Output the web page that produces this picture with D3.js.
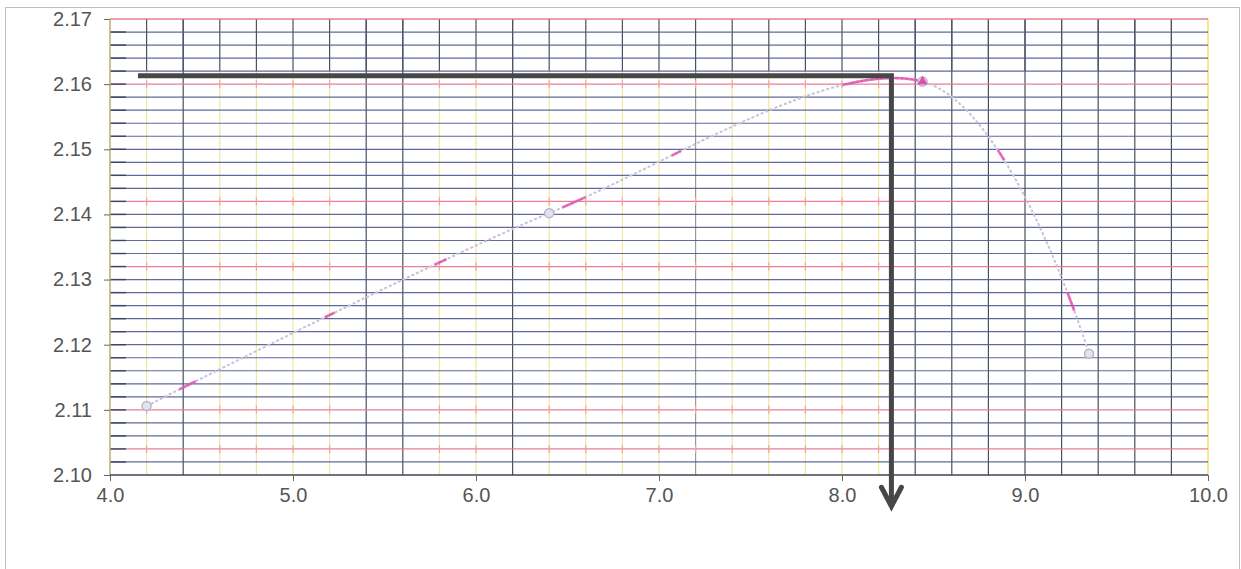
<!DOCTYPE html>
<html>
<head>
<meta charset="utf-8">
<script src="https://cdn.jsdelivr.net/npm/d3@7/dist/d3.min.js"></script>
<style>
  html, body { margin: 0; padding: 0; background: #fff; }
  svg { display: block; }
  text { font-family: "Liberation Sans", Arial, sans-serif; fill: #555; }
</style>
</head>
<body>
<svg id="chart" width="1241" height="569"></svg>
<script>
// ---- data ----
const xValues = [4.2, 6.4, 8.44, 9.35];
const yValues = [2.1106, 2.1402, 2.1604, 2.1186];
const xTicks = [4, 5, 6, 7, 8, 9, 10];
const xTickLabels = ["4.0", "5.0", "6.0", "7.0", "8.0", "9.0", "10.0"];
const yTicks = [2.10, 2.11, 2.12, 2.13, 2.14, 2.15, 2.16, 2.17];
const yTickLabels = ["2.10", "2.11", "2.12", "2.13", "2.14", "2.15", "2.16", "2.17"];
// graph-paper overlay
const hLines = d3.range(0, 36).map(i => +(2.10 + i * 0.002).toFixed(3));
const redHLines = [2.170, 2.160, 2.142, 2.132, 2.110, 2.104];
const vLines = d3.range(1, 30).map(i => +(4.0 + i * 0.2).toFixed(1));
const darkVLines = [4.4, 5.4, 5.6, 6.2, 8.4];
const greyVLines = [7.2];
const topBandY = 2.162;
const rightBandX = 8.4;
// annotation arrow (read-off of the maximum)
const guideStartX = 4.153;
const guideX = 8.27;
const guideY = 2.1613;
const guideEndY = 2.0952;
// pink highlight stretches on the curve (x ranges)
const pinkRanges = [[4.38, 4.47], [5.17, 5.23], [5.77, 5.84], [6.47, 6.6], [7.07, 7.12], [8.0, 8.45], [8.85, 8.89], [9.23, 9.27]];

// ---- layout ----
const svg = d3.select("#chart");
const x = d3.scaleLinear().domain([4, 10]).range([110, 1208]);
const y = d3.scaleLinear().domain([2.10, 2.17]).range([475, 19]);

// outer border
svg.append("rect").attr("x", 5.5).attr("y", 7.5).attr("width", 1234).attr("height", 600)
  .attr("fill", "none").attr("stroke", "#b9c2cc").attr("stroke-width", 1);

const grid = svg.append("g");

// yellow verticals (lower-left region)
grid.selectAll("line.vy").data(vLines.filter(v => v < rightBandX && !darkVLines.includes(v)))
  .join("line").attr("class", "vy")
  .attr("x1", d => x(d)).attr("x2", d => x(d))
  .attr("y1", y(topBandY)).attr("y2", y(2.10))
  .attr("stroke", d => greyVLines.includes(d) ? "#9a9a88" : "#efe79a").attr("stroke-width", 1.2);

// dark verticals in top band
grid.selectAll("line.vt").data(vLines)
  .join("line").attr("class", "vt")
  .attr("x1", d => x(d)).attr("x2", d => x(d))
  .attr("y1", y(2.17)).attr("y2", y(topBandY))
  .attr("stroke", "#4c5060").attr("stroke-width", 1.2);

// dark full-height verticals
grid.selectAll("line.vd").data(vLines.filter(v => v > rightBandX || darkVLines.includes(v)))
  .join("line").attr("class", "vd")
  .attr("x1", d => x(d)).attr("x2", d => x(d))
  .attr("y1", y(2.17)).attr("y2", y(2.10))
  .attr("stroke", "#4c5060").attr("stroke-width", 1.2);

// right border of plot (yellow)
grid.append("line").attr("x1", x(10)).attr("x2", x(10)).attr("y1", y(2.17)).attr("y2", y(2.10))
  .attr("stroke", "#f2ea8c").attr("stroke-width", 2);

// horizontal lines
grid.selectAll("line.h").data(hLines.filter(v => v > 2.10))
  .join("line").attr("class", "h")
  .attr("x1", x(4)).attr("x2", x(10))
  .attr("y1", d => y(d)).attr("y2", d => y(d))
  .attr("stroke", d => redHLines.includes(d) ? "#e9788e" : "#4f5a92")
  .attr("stroke-width", d => redHLines.includes(d) ? 1.3 : 1.2)
  .attr("opacity", d => redHLines.includes(d) ? 0.95 : 0.9);

// short dark dashes at the left side of each line
grid.selectAll("line.hd").data(hLines.filter(v => v > 2.10 && v < 2.17))
  .join("line").attr("class", "hd")
  .attr("x1", x(4)).attr("x2", x(4) + 16)
  .attr("y1", d => y(d)).attr("y2", d => y(d))
  .attr("stroke", "#3c4468").attr("stroke-width", 1.4);

// pink cross marks on yellow verticals at red lines
const crosses = [];
vLines.filter(v => v < rightBandX && !darkVLines.includes(v)).forEach(v => {
  redHLines.filter(h => h < topBandY).forEach(h => crosses.push([v, h]));
});
grid.selectAll("line.pk").data(crosses).join("line").attr("class", "pk")
  .attr("x1", d => x(d[0])).attr("x2", d => x(d[0]))
  .attr("y1", d => y(d[1]) - 4).attr("y2", d => y(d[1]) + 4)
  .attr("stroke", "#f3a0b4").attr("stroke-width", 1.2);

// axes
grid.append("line").attr("x1", x(4)).attr("x2", x(4)).attr("y1", y(2.17)).attr("y2", y(2.10))
  .attr("stroke", "#b8b070").attr("stroke-width", 1.5);
grid.append("line").attr("x1", x(4)).attr("x2", x(10)).attr("y1", y(2.10)).attr("y2", y(2.10))
  .attr("stroke", "#3e4458").attr("stroke-width", 1.6);

const yAxis = d3.axisLeft(y).tickValues(yTicks).tickSize(6).tickFormat((d, i) => yTickLabels[i]);
const ya = svg.append("g").attr("transform", `translate(${x(4)},0)`).call(yAxis);
ya.select(".domain").remove();
ya.selectAll(".tick line").attr("stroke", "#666");
ya.selectAll(".tick text").attr("x", -18).attr("font-size", "20px").attr("fill", "#505050")
  .style("font-family", "'Liberation Sans', Arial, sans-serif");

const xAxis = d3.axisBottom(x).tickValues(xTicks).tickSize(6).tickFormat((d, i) => xTickLabels[i]);
const xa = svg.append("g").attr("transform", `translate(0,${y(2.10)})`).call(xAxis);
xa.select(".domain").remove();
xa.selectAll(".tick line").attr("stroke", "#666");
xa.selectAll(".tick text").attr("y", 13).attr("font-size", "20px").attr("fill", "#505050")
  .style("font-family", "'Liberation Sans', Arial, sans-serif");

// ---- series ----
const pts = xValues.map((v, i) => [x(v), y(yValues[i])]);
const lineGen = d3.line().curve(d3.curveCardinal.tension(0));
const curve = svg.append("path").attr("d", lineGen(pts))
  .attr("fill", "none").attr("stroke", "#c9c1dc").attr("stroke-width", 2)
  .attr("stroke-dasharray", "3,2");

// pink highlight stretches sampled from the curve
const node = curve.node();
const total = node.getTotalLength();
const samples = d3.range(0, total, 1).map(l => node.getPointAtLength(l));
pinkRanges.forEach(r => {
  const seg = samples.filter(p => p.x >= x(r[0]) && p.x <= x(r[1])).map(p => [p.x, p.y]);
  if (seg.length > 1) {
    svg.append("path").attr("d", d3.line()(seg)).attr("fill", "none")
      .attr("stroke", "#e040a8").attr("stroke-width", 2.6).attr("opacity", 0.75);
  }
});

// markers
svg.selectAll("circle.m").data(pts).join("circle").attr("class", "m")
  .attr("cx", d => d[0]).attr("cy", d => d[1]).attr("r", 4.5)
  .attr("fill", "#e4e2ee").attr("stroke", "#b8b6cc").attr("stroke-width", 1.5);
svg.append("path").attr("d", d3.symbol(d3.symbolTriangle, 45)())
  .attr("transform", `translate(${pts[2][0]},${pts[2][1]})`)
  .attr("fill", "#e050a8");

// ---- annotation arrow ----
const ax = x(guideX), ay = y(guideY), ey = y(guideEndY);
svg.append("path")
  .attr("d", `M${x(guideStartX)},${ay} H${ax} V${ey - 3}`)
  .attr("fill", "none").attr("stroke", "#474747").attr("stroke-width", 5).attr("stroke-linejoin", "miter");
svg.append("path")
  .attr("d", `M${ax - 10},${ey - 19} L${ax},${ey} L${ax + 10},${ey - 19}`)
  .attr("fill", "none").attr("stroke", "#474747").attr("stroke-width", 5)
  .attr("stroke-linejoin", "miter").attr("stroke-linecap", "round");
</script>
</body>
</html>
